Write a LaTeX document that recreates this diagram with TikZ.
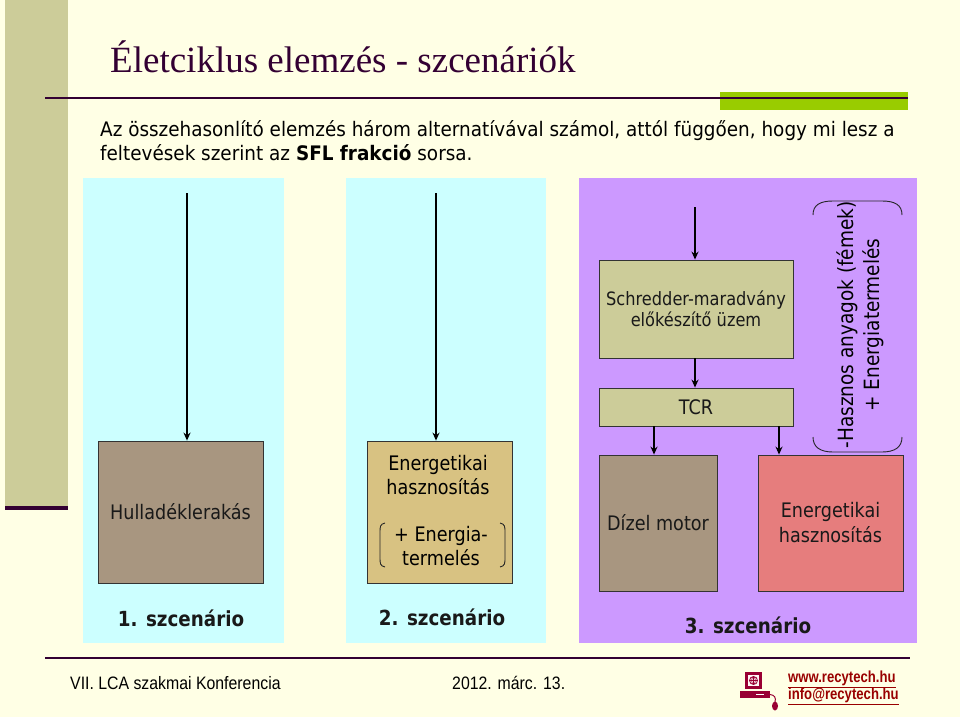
\documentclass[tikz,border=0pt]{standalone}
\usepackage{fontspec}
\setmainfont{Liberation Serif}
\newfontfamily\tah{DejaVu Sans}[FakeStretch=0.88]
\newfontfamily\tahw{DejaVu Sans}[FakeStretch=0.92]
\newfontfamily\nar{Liberation Sans}[FakeStretch=0.88]
\newfontfamily\narl{Liberation Sans}[FakeStretch=0.82]
\usetikzlibrary{arrows.meta}
\definecolor{bg}{HTML}{FFFFE5}
\definecolor{leftbar}{HTML}{CCCC99}
\definecolor{titlec}{HTML}{330033}
\definecolor{greenbar}{HTML}{99CC00}
\definecolor{cyanpanel}{HTML}{CCFFFF}
\definecolor{purplepanel}{HTML}{CC99FF}
\definecolor{brownbox}{HTML}{A89680}
\definecolor{tanbox}{HTML}{D8C282}
\definecolor{khakibox}{HTML}{CCCC99}
\definecolor{salmonbox}{HTML}{E67D7D}
\definecolor{linkred}{HTML}{990000}
\definecolor{iconred}{HTML}{990033}
\begin{document}
\begin{tikzpicture}[x=1pt,y=-1pt,
  boxst/.style={draw=black!80, line width=0.8pt, inner sep=0pt, align=center,
    font=\tah\fontsize{20}{25}\selectfont, text=black!90},
  arr/.style={line width=1.7pt, -{Stealth[length=8pt,width=7pt]}},
  scen/.style={font=\tah\bfseries\fontsize{20.8}{24}\selectfont, text=black!90},
  parenst/.style={line width=0.9pt, draw=black!85},
  foot/.style={font=\nar\fontsize{18}{21}\selectfont, anchor=base west}]
\useasboundingbox (0,0) rectangle (960,717);
\fill[bg] (0,0) rectangle (960,717);
% left bar
\fill[leftbar] (5,0) rectangle (68,507);
\fill[titlec] (5,506) rectangle (68,510);
% title
\node[anchor=base west, text=titlec, font=\fontsize{37}{40}\selectfont, inner sep=0pt] (title) at (110,73) {Életciklus elemzés - szcenáriók};
\fill[greenbar] (720,92) rectangle (908,110);
\draw[titlec, line width=1.6pt] (45,98) -- (908,98);
% intro text
\node[anchor=base west, font=\tahw\fontsize{20}{24}\selectfont, inner sep=0pt] (intro1) at (100,136) {Az összehasonlító elemzés három alternatívával számol, attól függően, hogy mi lesz a};
\node[anchor=base west, font=\tahw\fontsize{20}{24}\selectfont, inner sep=0pt] (intro2) at (100,160) {feltevések szerint az \textbf{SFL frakció} sorsa.};
% panels
\fill[cyanpanel] (83,178) rectangle (284,643);
\fill[cyanpanel] (346,178) rectangle (546,643);
\fill[purplepanel] (579,178) rectangle (917,643);
% scenario 1
\node[boxst, fill=brownbox, minimum width=165pt, minimum height=142pt] (hull) at (180.5,512) {Hulladéklerakás};
\coordinate (s1) at (187,193);
\draw[arr] (s1) -- (s1 |- hull.north);
\node[scen] (sc1) at (181,618) {1. szcenário};
% scenario 2
\node[boxst, fill=tanbox, minimum width=145pt, minimum height=142pt] (en2) at (439.5,512) {};
\node[font=\tah\fontsize{20}{24}\selectfont, align=center, inner sep=0pt] (en2a) at (438,475) {Energetikai\\hasznosítás};
\node[font=\tah\fontsize{20}{24}\selectfont, align=center, inner sep=0pt] (en2b) at (441,546) {+ Energia-\\termelés};
\draw[parenst] (385,523) .. controls (380,524) and (380,527) .. (380,532) -- (380,558) .. controls (380,563) and (380,566) .. (385,567);
\draw[parenst] (500,523) .. controls (505,524) and (505,527) .. (505,532) -- (505,558) .. controls (505,563) and (505,566) .. (500,567);
\coordinate (s2) at (436,193);
\draw[arr] (s2) -- (s2 |- en2.north);
\node[scen] (sc2) at (442,617) {2. szcenário};
% scenario 3
\node[boxst, fill=khakibox, minimum width=194pt, minimum height=98pt, font=\tah\fontsize{18.4}{21}\selectfont] (schr) at (696,309) {Schredder-maradvány\\előkészítő üzem};
\node[boxst, fill=khakibox, minimum width=194pt, minimum height=38pt] (tcr) at (696,407) {TCR};
\node[boxst, fill=brownbox, minimum width=118pt, minimum height=136pt] (dizel) at (658,523) {Dízel motor};
\node[boxst, fill=salmonbox, minimum width=145pt, minimum height=136pt] (en3) at (830.5,523) {Energetikai\\hasznosítás};
\coordinate (s3) at (695,207);
\draw[arr] (s3) -- (s3 |- schr.north);
\draw[arr] (schr.south -| s3) -- (s3 |- tcr.north);
\coordinate (t1) at (654,426);
\coordinate (t2) at (779,426);
\draw[arr] (t1) -- (t1 |- dizel.north);
\draw[arr] (t2) -- (t2 |- en3.north);
\node[rotate=90, align=center, font=\tah\fontsize{21}{26}\selectfont, inner sep=0pt] (rot) at (860,325) {-Hasznos anyagok (fémek)\\+ Energiatermelés};
\draw[parenst] (813,215) .. controls (813,205) and (820,201) .. (833,201) -- (882,201) .. controls (895,201) and (902,205) .. (902,215);
\draw[parenst] (813,437) .. controls (813,447) and (820,452) .. (833,452) -- (882,452) .. controls (895,452) and (902,447) .. (902,437);
\node[scen] (sc3) at (748,625) {3. szcenário};
% footer
\draw[titlec, line width=2.2pt] (45,658) -- (910,658);
\node[foot, inner sep=0pt] (f1) at (70,689) {VII. LCA szakmai Konferencia};
\node[foot, inner sep=0pt] (f2) at (452,689) {2012. márc. 13.};
% icon
\fill[iconred] (745,672) rectangle (762,689);
\fill[white!85!pink] (748,675) rectangle (759,686);
\draw[iconred, line width=0.8pt] (753.5,680.5) circle (4pt);
\draw[iconred, line width=0.6pt] (749.5,680.5) -- (757.5,680.5) (753.5,676.5) -- (753.5,684.5);
\draw[iconred, line width=0.6pt] (753.5,676.5) .. controls (751,678) and (751,683) .. (753.5,684.5);
\draw[iconred, line width=0.6pt] (753.5,676.5) .. controls (756,678) and (756,683) .. (753.5,684.5);
\fill[iconred] (740,691) rectangle (770,698);
\draw[white, line width=0.8pt] (756,694.5) -- (764,694.5);
\coordinate (cab) at (770,694.5);
\draw[iconred, line width=1pt] (cab) .. controls (775,695) and (776,698) .. (775,702);
\fill[iconred] (775,706) ellipse (3pt and 4.5pt);
\node[anchor=base west, inner sep=0pt, text=linkred, font=\narl\bfseries\fontsize{16}{19}\selectfont] (www) at (788,682) {\underline{www.recytech.hu}};
\node[anchor=base west, inner sep=0pt, text=linkred, font=\narl\bfseries\fontsize{16}{19}\selectfont] (mail) at (788,699) {\underline{info@recytech.hu}};
\end{tikzpicture}
\end{document}
